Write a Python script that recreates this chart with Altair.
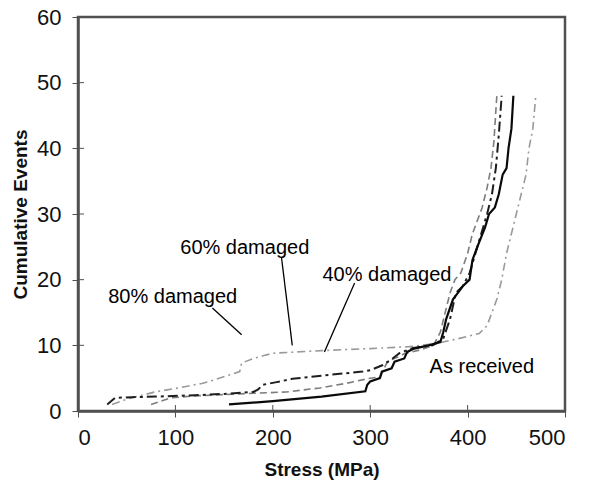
import altair as alt
import pandas as pd

# Cumulative acoustic-emission events versus applied stress
as_received_x = [155, 200, 250, 295, 297, 300, 310, 312, 322, 325, 335, 338, 345, 360, 372,
                 375, 378, 385, 390, 395, 402, 405, 410, 418, 422, 428, 432, 436, 440, 442, 445, 447]
as_received_y = [1, 1.5, 2.2, 3, 4, 4.5, 5, 6, 6.5, 7.5, 8, 9, 9.5, 10, 10.5,
                 12, 14, 17, 18, 19, 20, 23, 25, 28, 30, 31, 33, 36, 37, 40, 43, 48]

dmg40_x = [30, 38, 55, 80, 120, 150, 180, 185, 190, 204, 220, 258, 292, 300, 313, 323, 330,
           344, 364, 375, 382, 388, 395, 402, 408, 414, 420, 425, 429, 432, 435]
dmg40_y = [1, 2, 2.1, 2.2, 2.4, 2.6, 2.9, 3.3, 4, 4.4, 4.9, 5.5, 6, 6.2, 7, 8, 8.8,
           9.6, 10, 11, 14, 18, 19, 21, 24, 27, 30, 33, 37, 42, 48]

dmg60_x = [75, 95, 120, 150, 180, 214, 248, 275, 300, 310, 317, 322, 335, 351, 365, 372,
           377, 382, 387, 393, 400, 405, 410, 415, 420, 424, 427, 430]
dmg60_y = [1, 2, 2.3, 2.5, 2.7, 2.9, 3.5, 4.2, 5, 5.2, 7.3, 7.8, 8.7, 9.3, 10, 12,
           15, 18, 20, 21, 24, 27, 29, 31, 34, 37, 41, 48]

dmg80_x = [35, 50, 79, 103, 127, 137, 166, 168, 180, 190, 200, 250, 300, 340, 368, 390,
           412, 420, 425, 430, 435, 440, 445, 450, 455, 460, 463, 467, 470]
dmg80_y = [1, 1.8, 2.9, 3.5, 4.2, 4.6, 6, 7.3, 8, 8.4, 8.8, 9.2, 9.5, 9.8, 10.3, 11,
           11.8, 13, 15, 17, 20, 24, 27, 30, 33, 36, 40, 43, 48]

# Annotation texts and their leader lines (data units)
label_text = ["80%  damaged", "60% damaged", "40% damaged", "As received"]
label_x = [31, 105, 251, 361]
label_y = [17.4, 24.8, 20.7, 6.7]

leader_x = [138, 209, 284]
leader_y = [15.7, 23.3, 19.5]
leader_x2 = [168, 220, 253]
leader_y2 = [11.6, 10.0, 9.0]

x_ticks = [0, 100, 200, 300, 400, 500]
y_ticks = [0, 10, 20, 30, 40, 50, 60]

W, H = 487, 394
FONT = "Liberation Sans"
AXIS = "#505050"

xs = alt.Scale(domain=[0, 500], nice=False)
ys = alt.Scale(domain=[0, 60], nice=False)


def series(xv, yv, color, width, dash=None):
    df = pd.DataFrame({"stress": xv, "events": yv, "order": range(len(xv))})
    kw = dict(color=color, strokeWidth=width, clip=True)
    if dash:
        kw["strokeDash"] = dash
    return alt.Chart(df).mark_line(**kw).encode(
        x=alt.X("stress:Q", scale=xs,
                axis=alt.Axis(values=x_ticks, title="Stress (MPa)", format="d")),
        y=alt.Y("events:Q", scale=ys,
                axis=alt.Axis(values=y_ticks, title="Cumulative Events", format="d")),
        order="order:Q",
    )


l80 = series(dmg80_x, dmg80_y, "#9a9a9a", 1.6, [8, 4, 2, 4])
l60 = series(dmg60_x, dmg60_y, "#7d7d7d", 1.6, [7, 4])
l40 = series(dmg40_x, dmg40_y, "#1e1e1e", 2.0, [10, 4, 3, 4])
l0 = series(as_received_x, as_received_y, "#0a0a0a", 2.2)

# inward halves of the crossing tick marks
yt = alt.Chart(pd.DataFrame({"v": y_ticks})).mark_rule(color=AXIS, strokeWidth=1).encode(
    y=alt.Y("v:Q", scale=ys), x=alt.value(0), x2=alt.value(6))
xt = alt.Chart(pd.DataFrame({"v": x_ticks})).mark_rule(color=AXIS, strokeWidth=1).encode(
    x=alt.X("v:Q", scale=xs), y=alt.value(H), y2=alt.value(H - 6))

leaders = alt.Chart(pd.DataFrame({"x": leader_x, "y": leader_y,
                                  "x2": leader_x2, "y2": leader_y2})).mark_rule(
    color="#000", strokeWidth=1.3).encode(
    x=alt.X("x:Q", scale=xs), y=alt.Y("y:Q", scale=ys), x2="x2:Q", y2="y2:Q")

labels = alt.Chart(pd.DataFrame({"t": label_text, "x": label_x, "y": label_y})).mark_text(
    align="left", baseline="middle", font=FONT, fontSize=20, color="#000").encode(
    x=alt.X("x:Q", scale=xs), y=alt.Y("y:Q", scale=ys), text="t:N")

chart = alt.layer(l80, l60, l40, l0, yt, xt, leaders, labels).properties(
    width=W, height=H,
    autosize=alt.AutoSizeParams(type="none"),
    padding={"left": 78, "top": 17, "right": 46, "bottom": 76},
    background="white",
).configure_view(
    stroke=AXIS, strokeWidth=2.5
).configure_axis(
    domainColor=AXIS, domainWidth=2.5, tickColor=AXIS, tickWidth=1, tickSize=6,
    grid=False, labelFont=FONT, labelFontSize=22, labelColor="#111",
    titleFont=FONT, titleFontSize=19, titleFontWeight="bold", titleColor="#111",
).configure_axisX(
    labelPadding=10, titlePadding=12,
).configure_axisY(
    labelPadding=11, titlePadding=6,
)

chart.save("out.html", embed_options={"renderer": "svg", "actions": False})
